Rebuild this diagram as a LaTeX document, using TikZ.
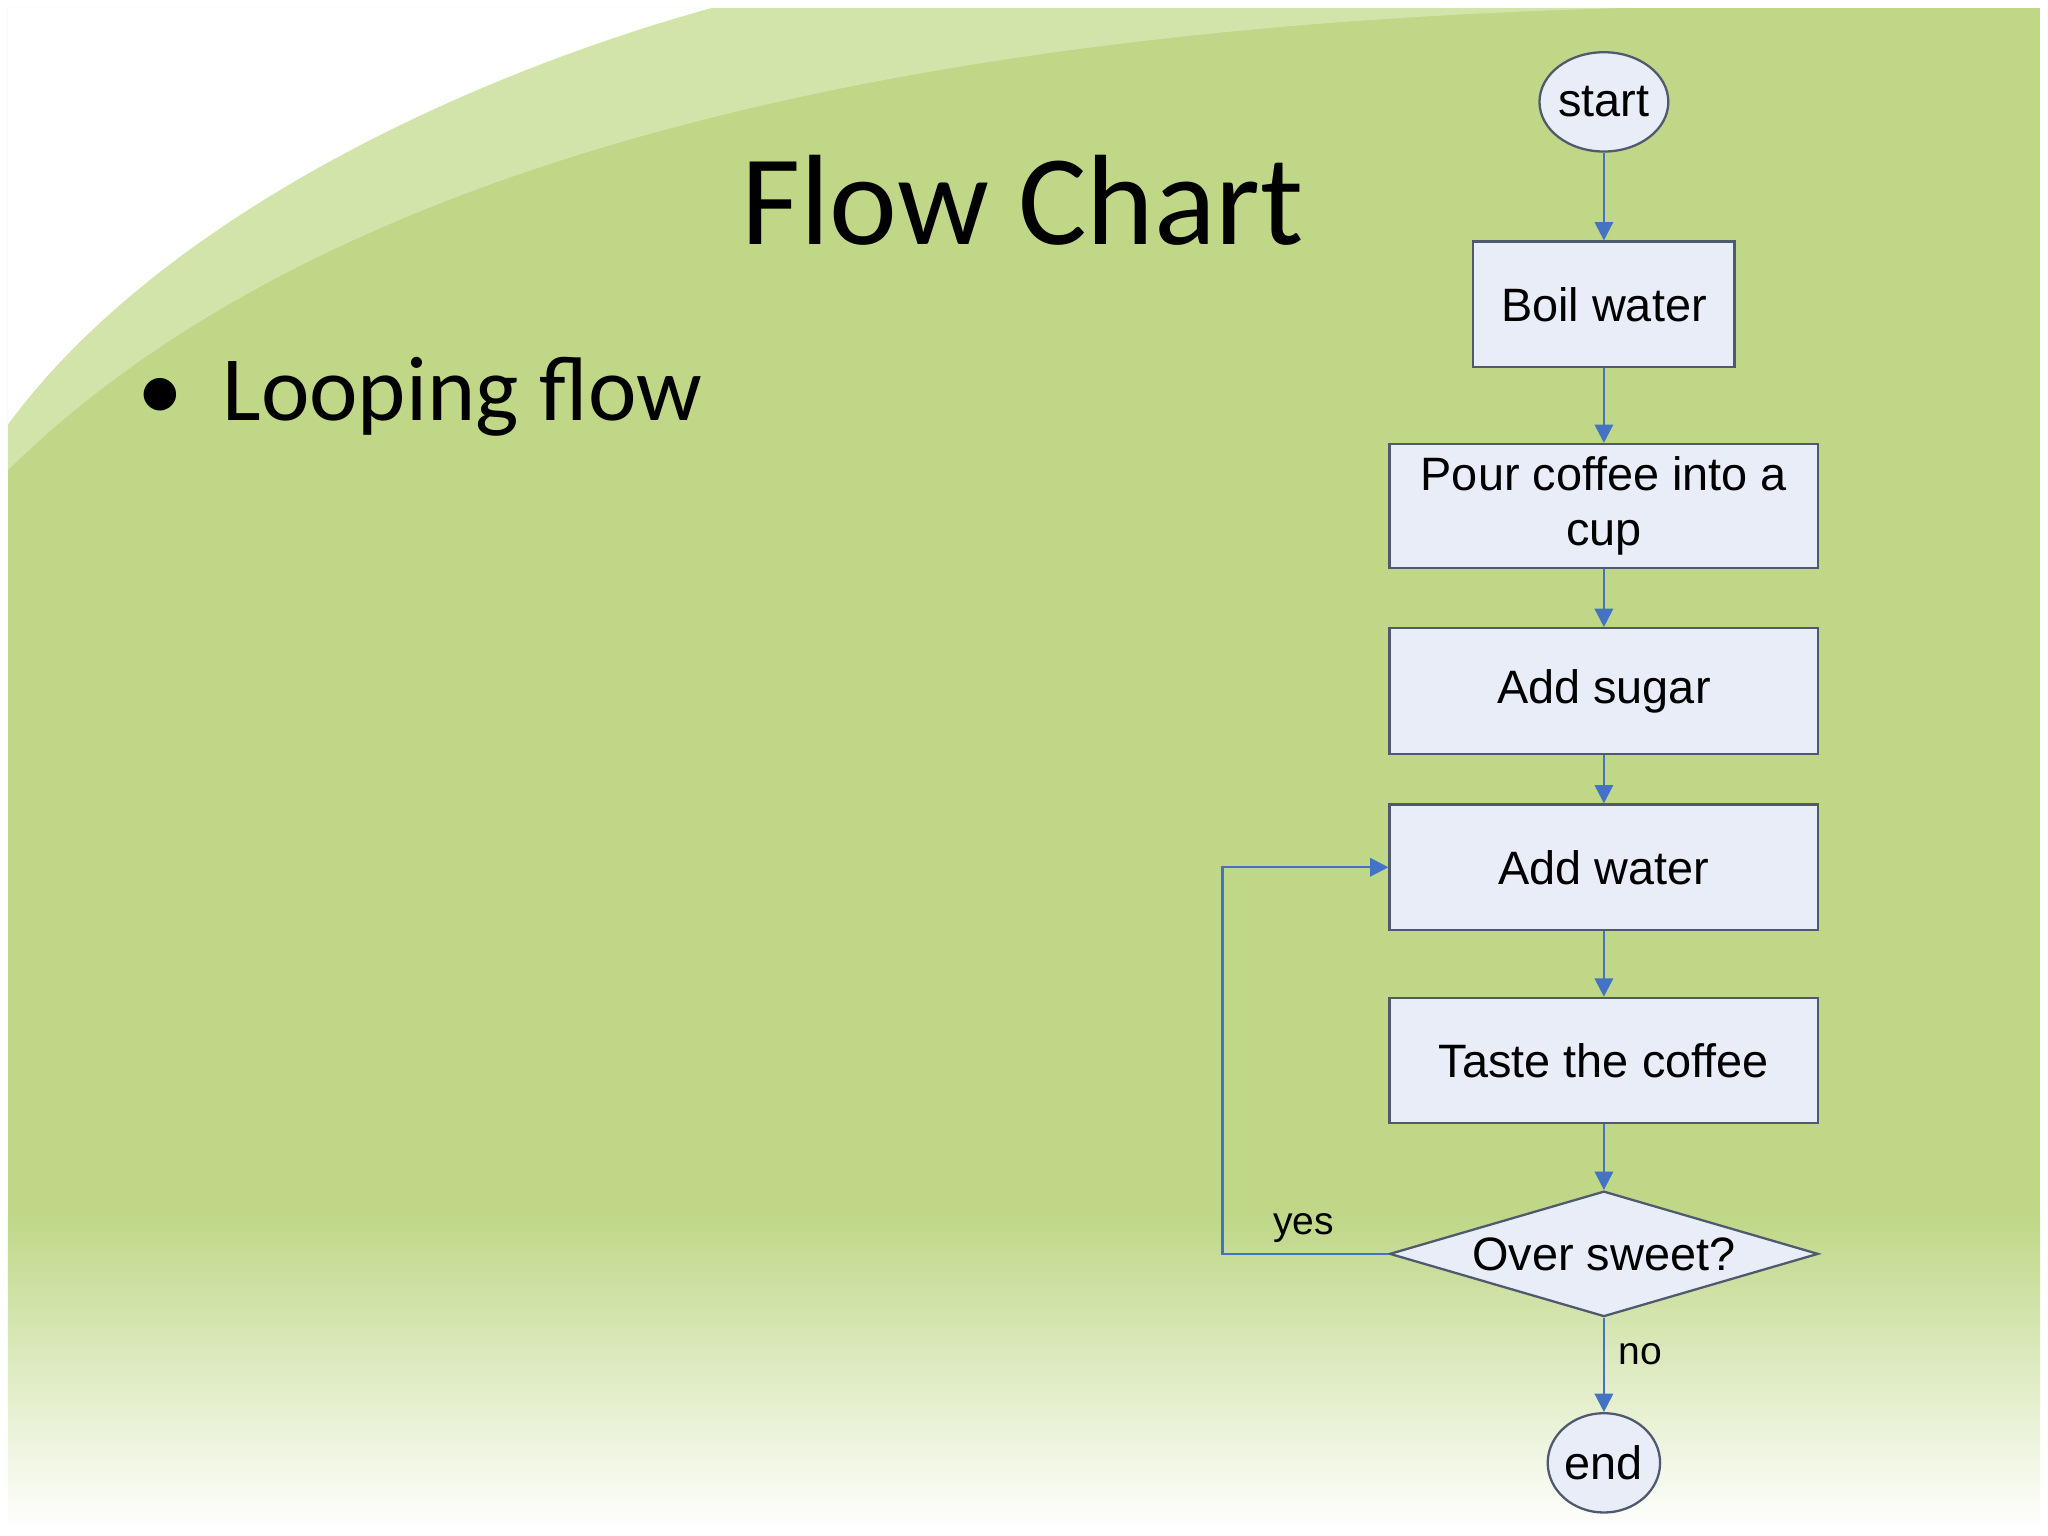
\documentclass[tikz,border=0pt]{standalone}
\usepackage{fontspec}
\setmainfont{Liberation Sans}
\newfontfamily\calfont{Carlito}
\usetikzlibrary{shapes.geometric,arrows.meta}
\definecolor{bg}{RGB}{191,215,135}
\definecolor{bgl}{RGB}{210,228,170}
\definecolor{boxfill}{RGB}{233,237,248}
\definecolor{boxline}{RGB}{80,90,110}
\definecolor{arr}{RGB}{68,114,196}
\tikzset{
 box/.style={draw=boxline,fill=boxfill,line width=0.5pt,font=\fontsize{10.2}{12}\selectfont,align=center,inner sep=0pt},
 term/.style={box,ellipse,minimum width=0.86cm,minimum height=0.76cm},
 flow/.style={draw=arr,line width=0.5pt,-{Triangle[length=4pt,width=4pt]}},
 lbl/.style={font=\fontsize{8.5}{10}\selectfont}
}
\begin{document}
\begin{tikzpicture}[x=0.01cm,y=-0.01cm]
\useasboundingbox (0,0) rectangle (1568,1176);
\fill[white] (0,0) rectangle (1568,1176);
\fill[bg] (6,6) rectangle (1562,1170);
\shade[top color=bg,bottom color=white] (6,930) rectangle (1562,1171);
\fill[bgl] (6,6) -- (1250,6) .. controls (700,20) and (250,120) .. (6,360) -- cycle;
\fill[white] (6,6) -- (545,6) .. controls (350,60) and (120,170) .. (6,325) -- cycle;
\node[font=\calfont\fontsize{28}{32}\selectfont] (title) at (783,153) {Flow Chart};
\node[font=\calfont\fontsize{20}{24}\selectfont,anchor=base west] (bul) at (93,322) {\textbullet\hspace{0.3cm}Looping flow};
\node[term] (start) at (1228,78) {start};
\node[box,minimum width=2cm,minimum height=0.96cm] (boil) at (1228,233) {Boil water};
\node[box,minimum width=3.28cm,minimum height=0.95cm] (pour) at (1228,387.5) {Pour coffee into a\\cup};
\node[box,minimum width=3.28cm,minimum height=0.96cm] (sugar) at (1228,529) {Add sugar};
\node[box,minimum width=3.28cm,minimum height=0.96cm] (water) at (1228,664) {Add water};
\node[box,minimum width=3.28cm,minimum height=0.96cm] (taste) at (1228,812) {Taste the coffee};
\node[box,diamond,aspect=3.42,minimum width=3.28cm,minimum height=0.96cm] (dec) at (1228,960) {Over sweet?};
\node[term] (end) at (1228,1120) {end};
\draw[flow] (start) -- (boil);
\draw[flow] (boil) -- (pour);
\draw[flow] (pour) -- (sugar);
\draw[flow] (sugar) -- (water);
\draw[flow] (water) -- (taste);
\draw[flow] (taste) -- (dec);
\draw[flow] (dec) -- (end);
\coordinate (lc) at (936,960);
\draw[flow] (dec.west) -- (lc) |- (water.west);
\node[lbl] (yes) at (998,940) {yes};
\node[lbl] (no) at (1256,1037) {no};
\end{tikzpicture}
\end{document}
